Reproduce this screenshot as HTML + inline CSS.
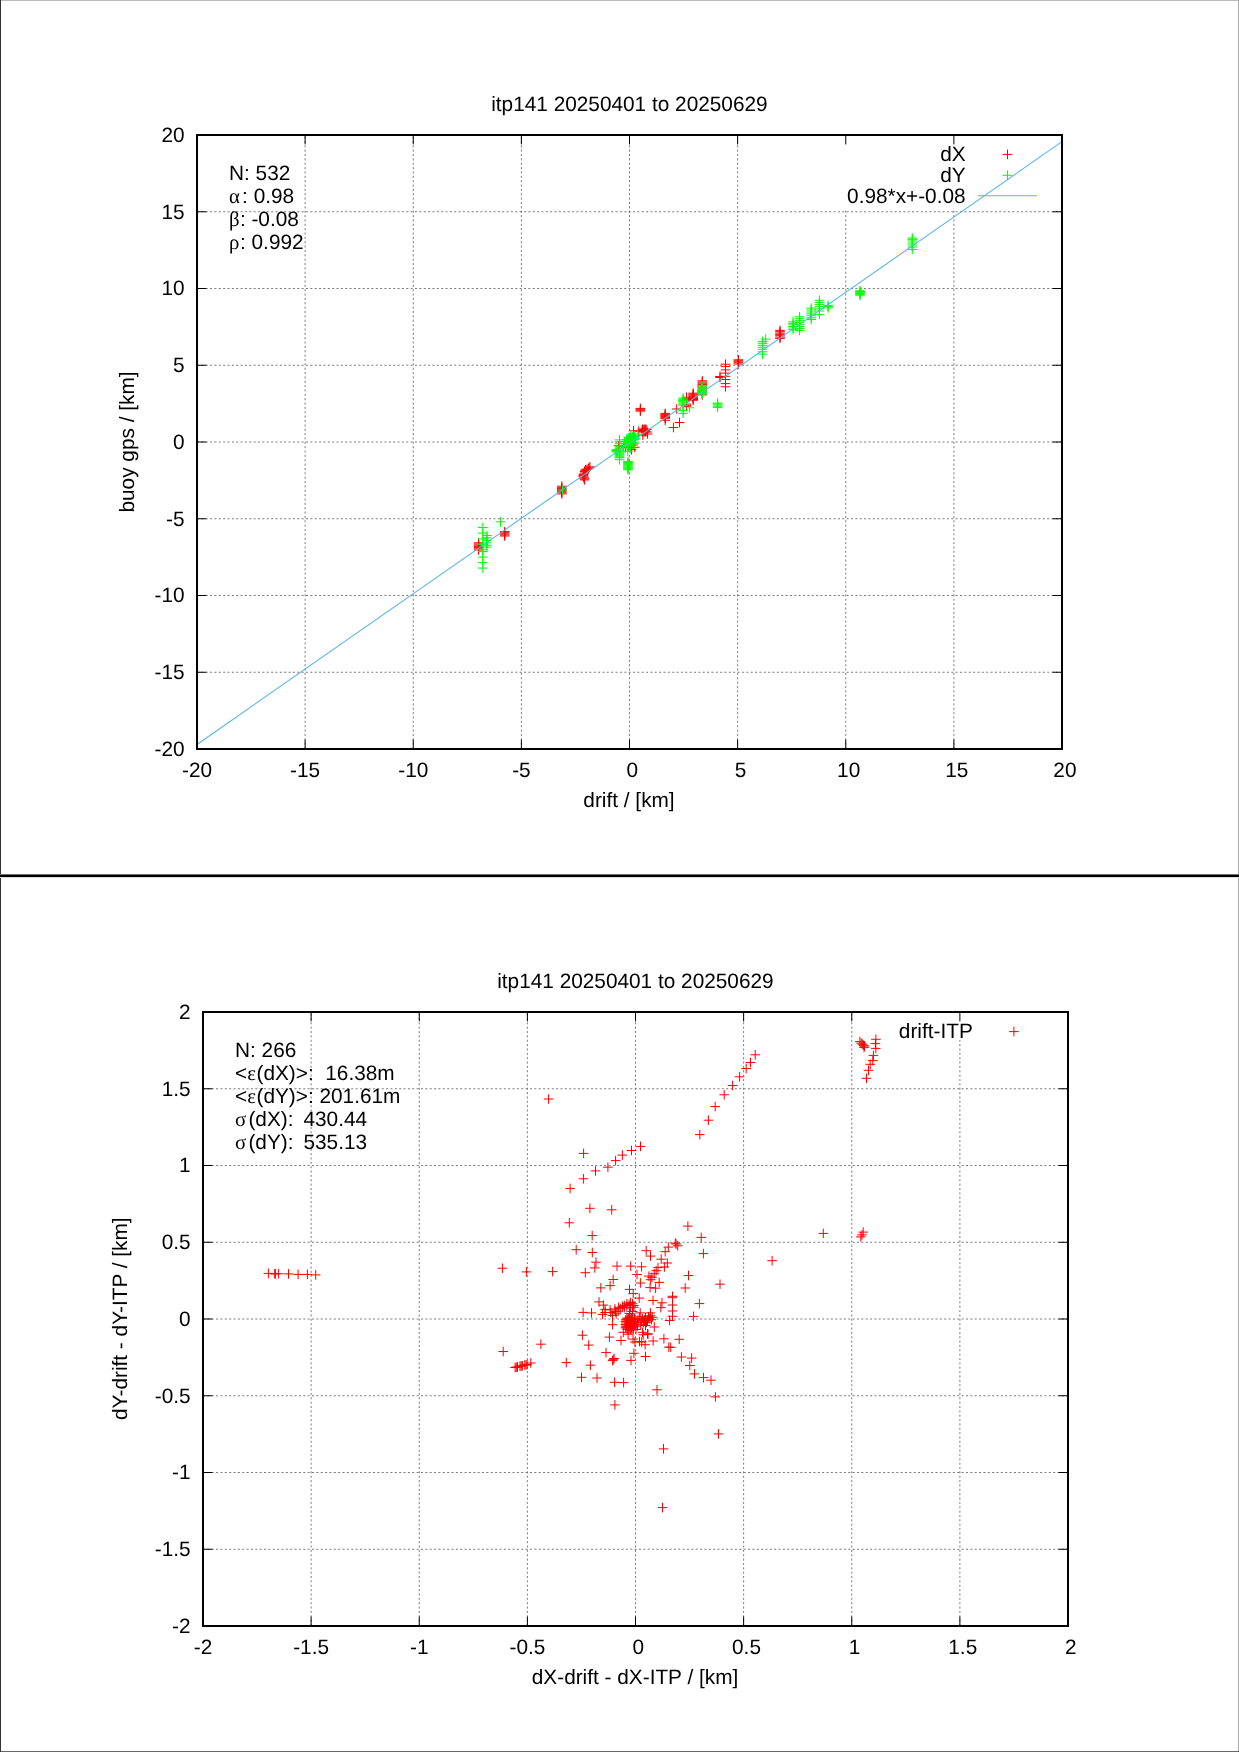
<!DOCTYPE html>
<html lang="en"><head><meta charset="utf-8"><title>itp141 20250401 to 20250629</title>
<style>
html,body{margin:0;padding:0;background:#fff;}
body{width:1239px;height:1752px;overflow:hidden;position:relative;}
svg{position:absolute;left:0;top:0;display:block;will-change:transform;}
text{font-family:"Liberation Sans",sans-serif;font-size:20.8px;fill:#000;text-rendering:geometricPrecision;}
.sym{font-family:"Liberation Serif","DejaVu Serif",serif;font-style:normal;}
.grid{fill:none;stroke:#585858;stroke-width:0.8;stroke-dasharray:2 2.36;}
.tick{fill:none;stroke:#000;stroke-width:1;}
.frame{fill:none;stroke:#000;stroke-width:2;}
.fit{fill:none;stroke:#56b4e9;stroke-width:1.05;}
.pr{fill:none;stroke:#ff0000;stroke-width:1;}
.pg{fill:none;stroke:#00ff00;stroke-width:1;}
.bl{position:absolute;left:0;top:0;width:1px;height:1752px;background:#333;}
.bt{position:absolute;left:1px;top:0;width:1238px;height:1px;background:#bbb;}
.br{position:absolute;left:1238px;top:0;width:1px;height:1752px;background:#aaa;}
.bb{position:absolute;left:0;top:1751px;width:1239px;height:1px;background:#666;}
</style></head><body>
<div class="bt"></div><div class="br"></div><div class="bb"></div><div class="bl"></div>
<svg width="1239" height="1752" viewBox="0 0 1239 1752">
<path class="grid" d="M305.12 749V135M413.25 749V135M521.38 749V135M629.5 749V135M737.62 749V135M845.75 749V135M953.88 749V135M197 672.25H1062M197 595.5H1062M197 518.75H1062M197 442H1062M197 365.25H1062M197 288.5H1062M197 211.75H1062"/>
<rect x="842" y="136" width="219" height="72.6" fill="#fff"/>
<path class="tick" d="M305.12 749v-9.4M305.12 135v9.4M413.25 749v-9.4M413.25 135v9.4M521.38 749v-9.4M521.38 135v9.4M629.5 749v-9.4M629.5 135v9.4M737.62 749v-9.4M737.62 135v9.4M845.75 749v-9.4M845.75 135v9.4M953.88 749v-9.4M953.88 135v9.4M197 672.25h9.4M1062 672.25h-9.4M197 595.5h9.4M1062 595.5h-9.4M197 518.75h9.4M1062 518.75h-9.4M197 442h9.4M1062 442h-9.4M197 365.25h9.4M1062 365.25h-9.4M197 288.5h9.4M1062 288.5h-9.4M197 211.75h9.4M1062 211.75h-9.4"/>
<path class="pr" d="M473.8 542.8h9.6M478.6 538v9.6M473.8 544h9.6M478.6 539.2v9.6M473.8 545.2h9.6M478.6 540.4v9.6M473.8 546.4h9.6M478.6 541.6v9.6M473.8 547.6h9.6M478.6 542.8v9.6M473.8 548.8h9.6M478.6 544v9.6M473.8 550h9.6M478.6 545.2v9.6M499.9 531.6h9.6M504.7 526.8v9.6M499.9 532.7h9.6M504.7 527.9v9.6M499.9 533.8h9.6M504.7 529v9.6M499.9 534.9h9.6M504.7 530.1v9.6M499.9 536h9.6M504.7 531.2v9.6M557 486.2h9.6M561.8 481.4v9.6M557 487.3h9.6M561.8 482.5v9.6M557 488.4h9.6M561.8 483.6v9.6M557 489.5h9.6M561.8 484.7v9.6M557 490.6h9.6M561.8 485.8v9.6M557 491.7h9.6M561.8 486.9v9.6M557 492.8h9.6M561.8 488v9.6M557 493.9h9.6M561.8 489.1v9.6M585.1 466.8h9.6M589.9 462v9.6M583.6 468.7h9.6M588.4 463.9v9.6M580.7 469.7h9.6M585.5 464.9v9.6M579.8 471.6h9.6M584.6 466.8v9.6M578.8 474.6h9.6M583.6 469.8v9.6M578.3 476h9.6M583.1 471.2v9.6M579.3 477.9h9.6M584.1 473.1v9.6M579.8 479.9h9.6M584.6 475.1v9.6M582.2 469.2h9.6M587 464.4v9.6M580.2 470.7h9.6M585 465.9v9.6M579.3 473.1h9.6M584.1 468.3v9.6M578.6 475.3h9.6M583.4 470.5v9.6M578.8 477h9.6M583.6 472.2v9.6M579.5 478.9h9.6M584.3 474.1v9.6M584.2 467.8h9.6M589 463v9.6M635.6 408.4h9.6M640.4 403.6v9.6M635.6 409.3h9.6M640.4 404.5v9.6M635.6 410.2h9.6M640.4 405.4v9.6M635.6 411.1h9.6M640.4 406.3v9.6M628.7 430.8h9.6M633.5 426v9.6M633.9 431.2h9.6M638.7 426.4v9.6M637.2 430.4h9.6M642 425.6v9.6M639.2 430h9.6M644 425.2v9.6M642 429.5h9.6M646.8 424.7v9.6M642.4 432h9.6M647.2 427.2v9.6M642.8 434h9.6M647.6 429.2v9.6M638 435.2h9.6M642.8 430.4v9.6M620.6 447.7h9.6M625.4 442.9v9.6M626.7 449.7h9.6M631.5 444.9v9.6M629.9 447.3h9.6M634.7 442.5v9.6M613.8 445.7h9.6M618.6 440.9v9.6M623.2 446h9.6M628 441.2v9.6M628.2 445h9.6M633 440.2v9.6M637.8 429.2h9.6M642.6 424.4v9.6M637.8 430.5h9.6M642.6 425.7v9.6M637.8 431.8h9.6M642.6 427v9.6M639.2 429.2h9.6M644 424.4v9.6M639.2 430.5h9.6M644 425.7v9.6M639.2 431.8h9.6M644 427v9.6M640.6 429.2h9.6M645.4 424.4v9.6M640.6 430.5h9.6M645.4 425.7v9.6M640.6 431.8h9.6M645.4 427v9.6M660.4 413.4h9.6M665.2 408.6v9.6M660.4 414.4h9.6M665.2 409.6v9.6M660.4 415.4h9.6M665.2 410.6v9.6M660.4 416.4h9.6M665.2 411.6v9.6M660.4 417.4h9.6M665.2 412.6v9.6M660.4 418.4h9.6M665.2 413.6v9.6M660.4 420.3h9.6M665.2 415.5v9.6M671.9 409h9.6M676.7 404.2v9.6M674.7 422.5h9.6M679.5 417.7v9.6M668.6 427.5h9.6M673.4 422.7v9.6M688.4 393.2h9.6M693.2 388.4v9.6M688.4 394.1h9.6M693.2 389.3v9.6M688.4 395h9.6M693.2 390.2v9.6M688.4 395.9h9.6M693.2 391.1v9.6M688.4 396.8h9.6M693.2 392v9.6M688.4 397.7h9.6M693.2 392.9v9.6M688.4 398.6h9.6M693.2 393.8v9.6M688.4 399.5h9.6M693.2 394.7v9.6M688.4 400.3h9.6M693.2 395.5v9.6M681.7 397.3h9.6M686.5 392.5v9.6M681.7 398.5h9.6M686.5 393.7v9.6M681.7 399.5h9.6M686.5 394.7v9.6M681.7 400.8h9.6M686.5 396v9.6M681.7 404.2h9.6M686.5 399.4v9.6M681.7 405.5h9.6M686.5 400.7v9.6M681.7 406.3h9.6M686.5 401.5v9.6M697.5 380.8h9.6M702.3 376v9.6M697.5 382h9.6M702.3 377.2v9.6M697.5 383.2h9.6M702.3 378.4v9.6M697.5 384.4h9.6M702.3 379.6v9.6M697.5 386h9.6M702.3 381.2v9.6M697.5 388h9.6M702.3 383.2v9.6M697.5 390h9.6M702.3 385.2v9.6M697.5 392h9.6M702.3 387.2v9.6M697.5 394.9h9.6M702.3 390.1v9.6M715.2 376.5h9.6M720 371.7v9.6M715.2 377.5h9.6M720 372.7v9.6M720.7 364.2h9.6M725.5 359.4v9.6M720.7 366.6h9.6M725.5 361.8v9.6M720.7 369.9h9.6M725.5 365.1v9.6M720.7 373.1h9.6M725.5 368.3v9.6M720.7 376.3h9.6M725.5 371.5v9.6M720.7 379.5h9.6M725.5 374.7v9.6M720.7 383.6h9.6M725.5 378.8v9.6M720.7 386.8h9.6M725.5 382v9.6M733.6 359.8h9.6M738.4 355v9.6M733.6 360.8h9.6M738.4 356v9.6M733.6 361.8h9.6M738.4 357v9.6M733.6 362.8h9.6M738.4 358v9.6M733.6 364h9.6M738.4 359.2v9.6M775.2 330.4h9.6M780 325.6v9.6M775.2 331.7h9.6M780 326.9v9.6M775.2 333.1h9.6M780 328.3v9.6M775.2 334.4h9.6M780 329.6v9.6M775.2 335.7h9.6M780 330.9v9.6M775.2 337.1h9.6M780 332.3v9.6M775.2 338.4h9.6M780 333.6v9.6"/>
<path class="pg" d="M478 527.5h9.6M482.8 522.7v9.6M478 533.1h9.6M482.8 528.3v9.6M478 538.9h9.6M482.8 534.1v9.6M478 544.2h9.6M482.8 539.4v9.6M478 549.7h9.6M482.8 544.9v9.6M478 551.5h9.6M482.8 546.7v9.6M478 557.1h9.6M482.8 552.3v9.6M478 562.6h9.6M482.8 557.8v9.6M478 568.1h9.6M482.8 563.3v9.6M482.1 535.5h9.6M486.9 530.7v9.6M482.1 537.9h9.6M486.9 533.1v9.6M482.1 540.4h9.6M486.9 535.6v9.6M482.1 542.8h9.6M486.9 538v9.6M482.1 545.2h9.6M486.9 540.4v9.6M482.1 547.1h9.6M486.9 542.3v9.6M495.7 521.8h9.6M500.5 517v9.6M557.7 489.9h9.6M562.5 485.1v9.6M614.7 439.9h9.6M619.5 435.1v9.6M614.7 441.8h9.6M619.5 437v9.6M614.7 443.7h9.6M619.5 438.9v9.6M614.7 446h9.6M619.5 441.2v9.6M614.7 448.1h9.6M619.5 443.3v9.6M614.7 449.1h9.6M619.5 444.3v9.6M614.7 450.1h9.6M619.5 445.3v9.6M614.7 451.1h9.6M619.5 446.3v9.6M614.7 452.1h9.6M619.5 447.3v9.6M614.7 453.1h9.6M619.5 448.3v9.6M614.7 454.1h9.6M619.5 449.3v9.6M614.7 455.1h9.6M619.5 450.3v9.6M614.7 456.1h9.6M619.5 451.3v9.6M614.7 457.1h9.6M619.5 452.3v9.6M614.7 457.8h9.6M619.5 453v9.6M614.7 459.7h9.6M619.5 454.9v9.6M611.6 449.6h9.6M616.4 444.8v9.6M611.6 450.4h9.6M616.4 445.6v9.6M611.6 451.2h9.6M616.4 446.4v9.6M611.6 452h9.6M616.4 447.2v9.6M623.2 461.6h9.6M628 456.8v9.6M623.2 462.5h9.6M628 457.7v9.6M623.2 463.4h9.6M628 458.6v9.6M623.2 464.3h9.6M628 459.5v9.6M623.2 465.2h9.6M628 460.4v9.6M623.2 466.1h9.6M628 461.3v9.6M623.2 467h9.6M628 462.2v9.6M623.2 467.9h9.6M628 463.1v9.6M623.2 468.8h9.6M628 464v9.6M623.2 469.7h9.6M628 464.9v9.6M625.9 435.2h9.6M630.7 430.4v9.6M629.1 436h9.6M633.9 431.2v9.6M633.1 434h9.6M637.9 429.2v9.6M623.4 437.6h9.6M628.2 432.8v9.6M627.5 438.4h9.6M632.3 433.6v9.6M630.7 439.2h9.6M635.5 434.4v9.6M624.3 440.8h9.6M629.1 436v9.6M627.5 442.5h9.6M632.3 437.7v9.6M629.9 443.3h9.6M634.7 438.5v9.6M623.4 445.7h9.6M628.2 440.9v9.6M625.9 448.1h9.6M630.7 443.3v9.6M623 451.3h9.6M627.8 446.5v9.6M619.7 441.5h9.6M624.5 436.7v9.6M620.7 444h9.6M625.5 439.2v9.6M618.7 446.5h9.6M623.5 441.7v9.6M621.7 439.5h9.6M626.5 434.7v9.6M623.4 440.2h9.6M628.2 435.4v9.6M624.1 441.2h9.6M628.9 436.4v9.6M624.9 442.3h9.6M629.7 437.5v9.6M624.8 439.1h9.6M629.6 434.3v9.6M625.6 440.2h9.6M630.4 435.4v9.6M626.3 441.3h9.6M631.1 436.5v9.6M626.2 438.1h9.6M631 433.3v9.6M627 439.2h9.6M631.8 434.4v9.6M627.7 440.2h9.6M632.5 435.4v9.6M627.7 437h9.6M632.5 432.2v9.6M628.4 438.1h9.6M633.2 433.3v9.6M629.1 439.2h9.6M633.9 434.4v9.6M629.1 436h9.6M633.9 431.2v9.6M629.8 437.1h9.6M634.6 432.3v9.6M630.6 438.1h9.6M635.4 433.3v9.6M678.3 398.1h9.6M683.1 393.3v9.6M678.3 399.3h9.6M683.1 394.5v9.6M678.3 400.5h9.6M683.1 395.7v9.6M678.3 401.7h9.6M683.1 396.9v9.6M678.3 402.9h9.6M683.1 398.1v9.6M678.3 404.1h9.6M683.1 399.3v9.6M678.3 405.3h9.6M683.1 400.5v9.6M678.3 410.6h9.6M683.1 405.8v9.6M678.3 413.4h9.6M683.1 408.6v9.6M684.8 407.8h9.6M689.6 403v9.6M697.3 385.6h9.6M702.1 380.8v9.6M697.3 386.8h9.6M702.1 382v9.6M697.3 388h9.6M702.1 383.2v9.6M697.3 389.2h9.6M702.1 384.4v9.6M697.3 390h9.6M702.1 385.2v9.6M697.3 390.8h9.6M702.1 386v9.6M697.3 391.6h9.6M702.1 386.8v9.6M697.3 392.4h9.6M702.1 387.6v9.6M697.3 393.2h9.6M702.1 388.4v9.6M697.3 393.8h9.6M702.1 389v9.6M712.8 403.1h9.6M717.6 398.3v9.6M712.8 403.8h9.6M717.6 399v9.6M712.8 405h9.6M717.6 400.2v9.6M712.8 406.2h9.6M717.6 401.4v9.6M712.8 407.4h9.6M717.6 402.6v9.6M757.7 341.4h9.6M762.5 336.6v9.6M757.7 343.3h9.6M762.5 338.5v9.6M757.7 345.3h9.6M762.5 340.5v9.6M757.7 347.3h9.6M762.5 342.5v9.6M757.7 349.3h9.6M762.5 344.5v9.6M757.7 351.8h9.6M762.5 347v9.6M757.7 354.1h9.6M762.5 349.3v9.6M760.9 339.1h9.6M765.7 334.3v9.6M788.3 321.8h9.6M793.1 317v9.6M788.3 323.4h9.6M793.1 318.6v9.6M788.3 324.9h9.6M793.1 320.1v9.6M788.3 326.5h9.6M793.1 321.7v9.6M788.3 328h9.6M793.1 323.2v9.6M788.3 329.6h9.6M793.1 324.8v9.6M794.8 316.8h9.6M799.6 312v9.6M794.8 318.7h9.6M799.6 313.9v9.6M794.8 320.7h9.6M799.6 315.9v9.6M794.8 322.6h9.6M799.6 317.8v9.6M794.8 324.6h9.6M799.6 319.8v9.6M794.8 326.5h9.6M799.6 321.7v9.6M794.8 328.4h9.6M799.6 323.6v9.6M794.8 330.4h9.6M799.6 325.6v9.6M806.4 308.1h9.6M811.2 303.3v9.6M806.4 310h9.6M811.2 305.2v9.6M806.4 312h9.6M811.2 307.2v9.6M806.4 313.9h9.6M811.2 309.1v9.6M806.4 315.8h9.6M811.2 311v9.6M806.4 317.8h9.6M811.2 313v9.6M806.4 319.5h9.6M811.2 314.7v9.6M814.6 300.3h9.6M819.4 295.5v9.6M814.6 302.5h9.6M819.4 297.7v9.6M814.6 304.6h9.6M819.4 299.8v9.6M814.6 306.7h9.6M819.4 301.9v9.6M814.6 308.9h9.6M819.4 304.1v9.6M814.6 311h9.6M819.4 306.2v9.6M814.6 314.4h9.6M819.4 309.6v9.6M823.3 305.4h9.6M828.1 300.6v9.6M823.3 306.6h9.6M828.1 301.8v9.6M823.3 307.9h9.6M828.1 303.1v9.6M855.2 290.8h9.6M860 286v9.6M855.2 291.5h9.6M860 286.7v9.6M855.2 292.2h9.6M860 287.4v9.6M855.2 292.9h9.6M860 288.1v9.6M855.2 293.6h9.6M860 288.8v9.6M855.2 294.3h9.6M860 289.5v9.6M855.2 295.2h9.6M860 290.4v9.6M907.5 238h9.6M912.3 233.2v9.6M907.5 239.4h9.6M912.3 234.6v9.6M907.5 241h9.6M912.3 236.2v9.6M907.5 243.1h9.6M912.3 238.3v9.6M907.5 245h9.6M912.3 240.2v9.6M907.5 247h9.6M912.3 242.2v9.6M907.5 249.4h9.6M912.3 244.6v9.6"/>
<path class="fit" d="M197 744.45L1062 141.6"/>
<rect class="frame" x="197" y="135" width="865" height="614"/>
<text x="197" y="777" text-anchor="middle">-20</text>
<text x="305.12" y="777" text-anchor="middle">-15</text>
<text x="413.25" y="777" text-anchor="middle">-10</text>
<text x="521.38" y="777" text-anchor="middle">-5</text>
<text x="632.4" y="777" text-anchor="middle">0</text>
<text x="740.52" y="777" text-anchor="middle">5</text>
<text x="848.65" y="777" text-anchor="middle">10</text>
<text x="956.77" y="777" text-anchor="middle">15</text>
<text x="1064.9" y="777" text-anchor="middle">20</text>
<text x="184.6" y="755.8" text-anchor="end">-20</text>
<text x="184.6" y="679.05" text-anchor="end">-15</text>
<text x="184.6" y="602.3" text-anchor="end">-10</text>
<text x="184.6" y="525.55" text-anchor="end">-5</text>
<text x="184.6" y="448.8" text-anchor="end">0</text>
<text x="184.6" y="372.05" text-anchor="end">5</text>
<text x="184.6" y="295.3" text-anchor="end">10</text>
<text x="184.6" y="218.55" text-anchor="end">15</text>
<text x="184.6" y="141.8" text-anchor="end">20</text>
<text x="629.4" y="111" text-anchor="middle">itp141 20250401 to 20250629</text>
<text x="629" y="807.2" text-anchor="middle">drift / [km]</text>
<text transform="translate(133.9 442) rotate(-90)" text-anchor="middle">buoy gps / [km]</text>
<text x="229" y="179.7">N: 532</text>
<text x="229" y="202.8"><tspan class="sym">α</tspan><tspan dx="2.2">: 0.98</tspan></text>
<text x="229" y="225.9"><tspan class="sym">β</tspan><tspan dx="0.3">: -0.08</tspan></text>
<text x="229" y="249"><tspan class="sym">ρ</tspan><tspan dx="0.6">: 0.992</tspan></text>
<text x="965.6" y="161" text-anchor="end">dX</text>
<text x="965.6" y="182" text-anchor="end">dY</text>
<text x="965.6" y="202.8" text-anchor="end">0.98*x+-0.08</text>
<path class="pr" d="M1002.7 154.4h9.6M1007.5 149.6v9.6"/>
<path class="pg" d="M1002.7 175.3h9.6M1007.5 170.5v9.6"/>
<path class="fit" d="M978 195.8H1037"/>
<rect x="0" y="874" width="1239" height="1" fill="#6e6e6e"/><rect x="0" y="875" width="1239" height="2" fill="#000"/><rect x="0" y="877" width="1239" height="1" fill="#dcdcdc"/>
<path class="grid" d="M311.12 1626V1012M419.25 1626V1012M527.38 1626V1012M635.5 1626V1012M743.62 1626V1012M851.75 1626V1012M959.88 1626V1012M203 1549.25H1068M203 1472.5H1068M203 1395.75H1068M203 1319H1068M203 1242.25H1068M203 1165.5H1068M203 1088.75H1068"/>
<rect x="893" y="1013" width="174" height="27" fill="#fff"/>
<path class="tick" d="M311.12 1626v-9.4M311.12 1012v9.4M419.25 1626v-9.4M419.25 1012v9.4M527.38 1626v-9.4M527.38 1012v9.4M635.5 1626v-9.4M635.5 1012v9.4M743.62 1626v-9.4M743.62 1012v9.4M851.75 1626v-9.4M851.75 1012v9.4M959.88 1626v-9.4M959.88 1012v9.4M203 1549.25h9.4M1068 1549.25h-9.4M203 1472.5h9.4M1068 1472.5h-9.4M203 1395.75h9.4M1068 1395.75h-9.4M203 1319h9.4M1068 1319h-9.4M203 1242.25h9.4M1068 1242.25h-9.4M203 1165.5h9.4M1068 1165.5h-9.4M203 1088.75h9.4M1068 1088.75h-9.4"/>
<path class="pr" d="M263.6 1273.4h9.6M268.4 1268.6v9.6M269.9 1273.7h9.6M274.7 1268.9v9.6M270.6 1273.9h9.6M275.4 1269.1v9.6M273.6 1273.7h9.6M278.4 1268.9v9.6M283.7 1273.9h9.6M288.5 1269.1v9.6M293.3 1274.4h9.6M298.1 1269.6v9.6M302.6 1274.4h9.6M307.4 1269.6v9.6M310.9 1274.9h9.6M315.7 1270.1v9.6M543.8 1099h9.6M548.6 1094.2v9.6M578.8 1153.4h9.6M583.6 1148.6v9.6M635.7 1146.4h9.6M640.5 1141.6v9.6M626.7 1150.5h9.6M631.5 1145.7v9.6M617.6 1155.1h9.6M622.4 1150.3v9.6M610.8 1160.6h9.6M615.6 1155.8v9.6M603.1 1167.2h9.6M607.9 1162.4v9.6M590.7 1170.9h9.6M595.5 1166.1v9.6M578.6 1178.8h9.6M583.4 1174v9.6M565.3 1188.4h9.6M570.1 1183.6v9.6M750.4 1054.8h9.6M755.2 1050v9.6M745.7 1062.5h9.6M750.5 1057.7v9.6M741.4 1068.5h9.6M746.2 1063.7v9.6M734.8 1076.8h9.6M739.6 1072v9.6M727.8 1085.5h9.6M732.6 1080.7v9.6M719.4 1094.8h9.6M724.2 1090v9.6M710.4 1106.6h9.6M715.2 1101.8v9.6M703.6 1120.2h9.6M708.4 1115.4v9.6M695 1134.6h9.6M699.8 1129.8v9.6M871.1 1039.3h9.6M875.9 1034.5v9.6M870.6 1043.6h9.6M875.4 1038.8v9.6M871 1048.4h9.6M875.8 1043.6v9.6M868.6 1055.4h9.6M873.4 1050.6v9.6M868 1060.6h9.6M872.8 1055.8v9.6M865.4 1064.3h9.6M870.2 1059.5v9.6M863.7 1070.3h9.6M868.5 1065.5v9.6M861.7 1078.3h9.6M866.5 1073.5v9.6M855.1 1041.6h9.6M859.9 1036.8v9.6M856.4 1043.1h9.6M861.2 1038.3v9.6M857.5 1044.1h9.6M862.3 1039.3v9.6M858.6 1045.2h9.6M863.4 1040.4v9.6M859.7 1046h9.6M864.5 1041.2v9.6M859.3 1047.4h9.6M864.1 1042.6v9.6M767.3 1260.7h9.6M772.1 1255.9v9.6M818.5 1233.4h9.6M823.3 1228.6v9.6M858.4 1232.1h9.6M863.2 1227.3v9.6M857.2 1234.9h9.6M862 1230.1v9.6M856 1236.9h9.6M860.8 1232.1v9.6M576.7 1377.3h9.6M581.5 1372.5v9.6M592.2 1378h9.6M597 1373.2v9.6M609.8 1382.3h9.6M614.6 1377.5v9.6M618.8 1382.6h9.6M623.6 1377.8v9.6M610.1 1404.9h9.6M614.9 1400.1v9.6M652.2 1389.8h9.6M657 1385v9.6M689.7 1373.9h9.6M694.5 1369.1v9.6M698.7 1377.6h9.6M703.5 1372.8v9.6M706.2 1380.2h9.6M711 1375.4v9.6M710.6 1396.9h9.6M715.4 1392.1v9.6M713.7 1433.9h9.6M718.5 1429.1v9.6M658.7 1448.9h9.6M663.5 1444.1v9.6M657.7 1507.6h9.6M662.5 1502.8v9.6M585.1 1208.3h9.6M589.9 1203.5v9.6M606.9 1209.8h9.6M611.7 1205v9.6M564.5 1222.8h9.6M569.3 1218v9.6M587.4 1235.6h9.6M592.2 1230.8v9.6M571.4 1249.7h9.6M576.2 1244.9v9.6M587.5 1252.5h9.6M592.3 1247.7v9.6M591.2 1262.2h9.6M596 1257.4v9.6M590 1267.9h9.6M594.8 1263.1v9.6M612.2 1266.1h9.6M617 1261.3v9.6M497.6 1268.2h9.6M502.4 1263.4v9.6M521.6 1271.9h9.6M526.4 1267.1v9.6M547.8 1271.6h9.6M552.6 1266.8v9.6M580.5 1272.7h9.6M585.3 1267.9v9.6M608.4 1279.5h9.6M613.2 1274.7v9.6M605.3 1285.6h9.6M610.1 1280.8v9.6M596 1287.9h9.6M600.8 1283.1v9.6M624.7 1289.4h9.6M629.5 1284.6v9.6M683.1 1226.1h9.6M687.9 1221.3v9.6M696.4 1237.4h9.6M701.2 1232.6v9.6M698.6 1253.6h9.6M703.4 1248.8v9.6M670.5 1243.1h9.6M675.3 1238.3v9.6M672.9 1245.8h9.6M677.7 1241v9.6M671.3 1244h9.6M676.1 1239.2v9.6M663.5 1247.1h9.6M668.3 1242.3v9.6M660.4 1251.7h9.6M665.2 1246.9v9.6M641.4 1250.7h9.6M646.2 1245.9v9.6M645.7 1256.1h9.6M650.5 1251.3v9.6M656.4 1259.2h9.6M661.2 1254.4v9.6M662.5 1263h9.6M667.3 1258.2v9.6M659.6 1267h9.6M664.4 1262.2v9.6M653.2 1267.6h9.6M658 1262.8v9.6M651.4 1270.7h9.6M656.2 1265.9v9.6M649.5 1273.7h9.6M654.3 1268.9v9.6M625.9 1266.1h9.6M630.7 1261.3v9.6M636.8 1266.8h9.6M641.6 1262v9.6M632.2 1274.5h9.6M637 1269.7v9.6M644.1 1276.1h9.6M648.9 1271.3v9.6M647.1 1277.3h9.6M651.9 1272.5v9.6M645.9 1279.7h9.6M650.7 1274.9v9.6M635.6 1283h9.6M640.4 1278.2v9.6M654.4 1282.4h9.6M659.2 1277.6v9.6M645.3 1287.6h9.6M650.1 1282.8v9.6M650.8 1288.2h9.6M655.6 1283.4v9.6M628.4 1293.6h9.6M633.2 1288.8v9.6M683.7 1275.5h9.6M688.5 1270.7v9.6M680.4 1288h9.6M685.2 1283.2v9.6M715.2 1284.2h9.6M720 1279.4v9.6M634.4 1298.1h9.6M639.2 1293.3v9.6M648.2 1300.5h9.6M653 1295.7v9.6M657.2 1302.8h9.6M662 1298v9.6M656 1307.6h9.6M660.8 1302.8v9.6M667.7 1296.3h9.6M672.5 1291.5v9.6M667.7 1297.7h9.6M672.5 1292.9v9.6M667.7 1305h9.6M672.5 1300.2v9.6M667.7 1311h9.6M672.5 1306.2v9.6M667.7 1316.3h9.6M672.5 1311.5v9.6M664.8 1320.5h9.6M669.6 1315.7v9.6M694.6 1303.6h9.6M699.4 1298.8v9.6M688.8 1316.4h9.6M693.6 1311.6v9.6M594.2 1301.9h9.6M599 1297.1v9.6M598.6 1305.1h9.6M603.4 1300.3v9.6M597.7 1314.4h9.6M602.5 1309.6v9.6M600.3 1312.5h9.6M605.1 1307.7v9.6M600.3 1309.4h9.6M605.1 1304.6v9.6M605.3 1309.9h9.6M610.1 1305.1v9.6M605.9 1312.5h9.6M610.7 1307.7v9.6M607.7 1315.5h9.6M612.5 1310.7v9.6M610.1 1309h9.6M614.9 1304.2v9.6M610.7 1311.6h9.6M615.5 1306.8v9.6M611.4 1313.8h9.6M616.2 1309v9.6M613.8 1307.3h9.6M618.6 1302.5v9.6M613.4 1311.2h9.6M618.2 1306.4v9.6M615.5 1308.6h9.6M620.3 1303.8v9.6M619.5 1305.5h9.6M624.3 1300.7v9.6M619.5 1307.7h9.6M624.3 1302.9v9.6M622.1 1303.8h9.6M626.9 1299v9.6M622.1 1307.3h9.6M626.9 1302.5v9.6M625.6 1302.5h9.6M630.4 1297.7v9.6M625.6 1305.5h9.6M630.4 1300.7v9.6M625.6 1307.7h9.6M630.4 1302.9v9.6M629 1305.5h9.6M633.8 1300.7v9.6M629 1307.3h9.6M633.8 1302.5v9.6M627.7 1303.8h9.6M632.5 1299v9.6M624.3 1304.6h9.6M629.1 1299.8v9.6M617.7 1306.4h9.6M622.5 1301.6v9.6M627.7 1311.5h9.6M632.5 1306.7v9.6M624.7 1313.5h9.6M629.5 1308.7v9.6M578.3 1312.4h9.6M583.1 1307.6v9.6M586.7 1312.9h9.6M591.5 1308.1v9.6M621 1319.8h9.6M625.8 1315v9.6M620.6 1321.4h9.6M625.4 1316.6v9.6M621 1323h9.6M625.8 1318.2v9.6M620.6 1324.6h9.6M625.4 1319.8v9.6M621 1326.2h9.6M625.8 1321.4v9.6M620.6 1327.8h9.6M625.4 1323v9.6M622.1 1318.2h9.6M626.9 1313.4v9.6M622.5 1319.8h9.6M627.3 1315v9.6M622.1 1321.4h9.6M626.9 1316.6v9.6M622.1 1324.6h9.6M626.9 1319.8v9.6M622.5 1326.2h9.6M627.3 1321.4v9.6M622.1 1327.8h9.6M626.9 1323v9.6M622.5 1329.4h9.6M627.3 1324.6v9.6M623.6 1318.2h9.6M628.4 1313.4v9.6M624 1319.8h9.6M628.8 1315v9.6M623.6 1321.4h9.6M628.4 1316.6v9.6M624 1323h9.6M628.8 1318.2v9.6M623.6 1324.6h9.6M628.4 1319.8v9.6M624 1326.2h9.6M628.8 1321.4v9.6M624 1329.4h9.6M628.8 1324.6v9.6M625.1 1318.2h9.6M629.9 1313.4v9.6M625.5 1319.8h9.6M630.3 1315v9.6M625.5 1323h9.6M630.3 1318.2v9.6M625.1 1324.6h9.6M629.9 1319.8v9.6M625.5 1326.2h9.6M630.3 1321.4v9.6M625.1 1327.8h9.6M629.9 1323v9.6M625.5 1329.4h9.6M630.3 1324.6v9.6M626.6 1318.2h9.6M631.4 1313.4v9.6M627 1319.8h9.6M631.8 1315v9.6M626.6 1321.4h9.6M631.4 1316.6v9.6M627 1323h9.6M631.8 1318.2v9.6M626.6 1324.6h9.6M631.4 1319.8v9.6M626.6 1327.8h9.6M631.4 1323v9.6M627 1329.4h9.6M631.8 1324.6v9.6M628.1 1318.2h9.6M632.9 1313.4v9.6M628.1 1321.4h9.6M632.9 1316.6v9.6M628.5 1323h9.6M633.3 1318.2v9.6M628.1 1324.6h9.6M632.9 1319.8v9.6M628.5 1326.2h9.6M633.3 1321.4v9.6M628.1 1327.8h9.6M632.9 1323v9.6M628.5 1329.4h9.6M633.3 1324.6v9.6M629.6 1318.2h9.6M634.4 1313.4v9.6M630 1319.8h9.6M634.8 1315v9.6M629.6 1321.4h9.6M634.4 1316.6v9.6M630 1323h9.6M634.8 1318.2v9.6M630 1326.2h9.6M634.8 1321.4v9.6M634.9 1316.8h9.6M639.7 1312v9.6M637.8 1318.7h9.6M642.6 1313.9v9.6M640.7 1317.8h9.6M645.5 1313v9.6M643.7 1316.8h9.6M648.5 1312v9.6M645.6 1315.8h9.6M650.4 1311v9.6M647.5 1317.3h9.6M652.3 1312.5v9.6M646.6 1319.7h9.6M651.4 1314.9v9.6M642.7 1320.7h9.6M647.5 1315.9v9.6M638.8 1322.6h9.6M643.6 1317.8v9.6M635.9 1324.6h9.6M640.7 1319.8v9.6M640.7 1325.5h9.6M645.5 1320.7v9.6M649.5 1327h9.6M654.3 1322.2v9.6M642.7 1333.8h9.6M647.5 1329v9.6M637.8 1332.3h9.6M642.6 1327.5v9.6M635.4 1312.9h9.6M640.2 1308.1v9.6M645.6 1312.9h9.6M650.4 1308.1v9.6M636.7 1320.5h9.6M641.5 1315.7v9.6M639.7 1320h9.6M644.5 1315.2v9.6M641.7 1322.3h9.6M646.5 1317.5v9.6M644.5 1318.7h9.6M649.3 1313.9v9.6M633.2 1319.5h9.6M638 1314.7v9.6M632.7 1322.5h9.6M637.5 1317.7v9.6M632.7 1326h9.6M637.5 1321.2v9.6M631.2 1329.5h9.6M636 1324.7v9.6M607.8 1324.7h9.6M612.6 1319.9v9.6M577.6 1335.2h9.6M582.4 1330.4v9.6M583.9 1345.1h9.6M588.7 1340.3v9.6M604.6 1337.1h9.6M609.4 1332.3v9.6M616.2 1340.5h9.6M621 1335.7v9.6M601.2 1352.6h9.6M606 1347.8v9.6M609.3 1358.5h9.6M614.1 1353.7v9.6M628.2 1339.1h9.6M633 1334.3v9.6M630.1 1342h9.6M634.9 1337.2v9.6M636.9 1342h9.6M641.7 1337.2v9.6M640.3 1344.7h9.6M645.1 1339.9v9.6M648.3 1341h9.6M653.1 1336.2v9.6M659.1 1338.8h9.6M663.9 1334v9.6M674.4 1339.3h9.6M679.2 1334.5v9.6M664 1347.1h9.6M668.8 1342.3v9.6M665.9 1347.3h9.6M670.7 1342.5v9.6M629.1 1353.3h9.6M633.9 1348.5v9.6M640.7 1356.5h9.6M645.5 1351.7v9.6M676.6 1357h9.6M681.4 1352.2v9.6M626.2 1360.4h9.6M631 1355.6v9.6M618.5 1332.3h9.6M623.3 1327.5v9.6M623.3 1334.2h9.6M628.1 1329.4v9.6M634.7 1341.5h9.6M639.5 1336.7v9.6M638.4 1334.8h9.6M643.2 1330v9.6M643.2 1334.2h9.6M648 1329.4v9.6M498.4 1351.5h9.6M503.2 1346.7v9.6M536.1 1344.2h9.6M540.9 1339.4v9.6M510.3 1367.5h9.6M515.1 1362.7v9.6M512.7 1367h9.6M517.5 1362.2v9.6M515.2 1366.2h9.6M520 1361.4v9.6M517.6 1365.8h9.6M522.4 1361v9.6M520 1365h9.6M524.8 1360.2v9.6M522.4 1364.6h9.6M527.2 1359.8v9.6M526 1363h9.6M530.8 1358.2v9.6M511.5 1367.2h9.6M516.3 1362.4v9.6M516.4 1366h9.6M521.2 1361.2v9.6M521.2 1364.8h9.6M526 1360v9.6M561.5 1362.6h9.6M566.3 1357.8v9.6M585.6 1365.2h9.6M590.4 1360.4v9.6M608.4 1359.7h9.6M613.2 1354.9v9.6M607.8 1360.6h9.6M612.6 1355.8v9.6M686.8 1358.1h9.6M691.6 1353.3v9.6M685 1365.5h9.6M689.8 1360.7v9.6"/>
<rect class="frame" x="203" y="1012" width="865" height="614"/>
<text x="203" y="1654" text-anchor="middle">-2</text>
<text x="311.12" y="1654" text-anchor="middle">-1.5</text>
<text x="419.25" y="1654" text-anchor="middle">-1</text>
<text x="527.38" y="1654" text-anchor="middle">-0.5</text>
<text x="638.4" y="1654" text-anchor="middle">0</text>
<text x="746.52" y="1654" text-anchor="middle">0.5</text>
<text x="854.65" y="1654" text-anchor="middle">1</text>
<text x="962.77" y="1654" text-anchor="middle">1.5</text>
<text x="1070.9" y="1654" text-anchor="middle">2</text>
<text x="190.6" y="1632.8" text-anchor="end">-2</text>
<text x="190.6" y="1556.05" text-anchor="end">-1.5</text>
<text x="190.6" y="1479.3" text-anchor="end">-1</text>
<text x="190.6" y="1402.55" text-anchor="end">-0.5</text>
<text x="190.6" y="1325.8" text-anchor="end">0</text>
<text x="190.6" y="1249.05" text-anchor="end">0.5</text>
<text x="190.6" y="1172.3" text-anchor="end">1</text>
<text x="190.6" y="1095.55" text-anchor="end">1.5</text>
<text x="190.6" y="1018.8" text-anchor="end">2</text>
<text x="635.4" y="988" text-anchor="middle">itp141 20250401 to 20250629</text>
<text x="635" y="1684.2" text-anchor="middle">dX-drift - dX-ITP / [km]</text>
<text transform="translate(126.9 1318.7) rotate(-90)" text-anchor="middle">dY-drift - dY-ITP / [km]</text>
<text x="235" y="1056.7" xml:space="preserve" style="white-space:pre">N: 266</text>
<text x="235" y="1079.8" xml:space="preserve" style="white-space:pre">&lt;<tspan class="sym">ε</tspan><tspan dx="0.6">(dX)&gt;:  16.38m</tspan></text>
<text x="235" y="1102.9" xml:space="preserve" style="white-space:pre">&lt;<tspan class="sym">ε</tspan><tspan dx="0.6">(dY)&gt;: 201.61m</tspan></text>
<text x="235" y="1126" xml:space="preserve" style="white-space:pre"><tspan class="sym">σ</tspan><tspan dx="2.2">(dX):</tspan><tspan dx="-1.6">  430.44</tspan></text>
<text x="235" y="1149.1" xml:space="preserve" style="white-space:pre"><tspan class="sym">σ</tspan><tspan dx="2.2">(dY):</tspan><tspan dx="-1.6">  535.13</tspan></text>
<text x="972.8" y="1038" text-anchor="end">drift-ITP</text>
<path class="pr" d="M1009.1 1031.6h9.6M1013.9 1026.8v9.6"/>
</svg>
</body></html>
